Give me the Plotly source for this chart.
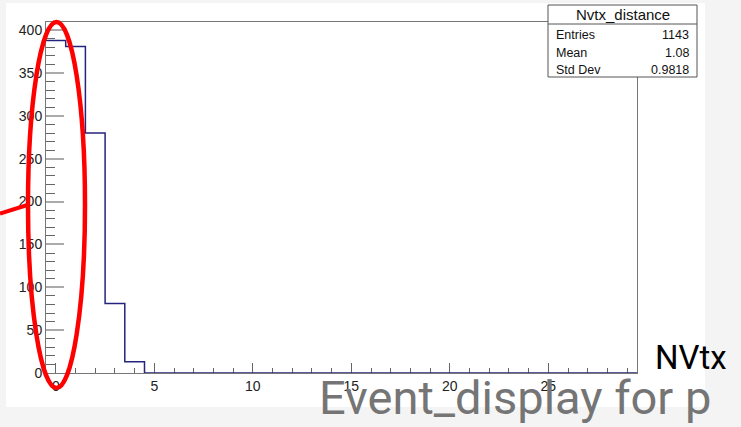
import plotly.graph_objects as go

# Nvtx_distance histogram: 30 unit-width bins centred on 0..29
bin_edges = [i - 0.5 for i in range(31)]
counts = [388, 381, 280, 81, 13] + [0] * 25

stats_title = "Nvtx_distance"
stats_labels = ["Entries", "Mean", "Std Dev"]
stats_values = ["1143", "1.08", "0.9818"]

x_major = [0, 5, 10, 15, 20, 25]
y_major = [0, 50, 100, 150, 200, 250, 300, 350, 400]

W, H = 741, 427


def px(x):
    return x / W


def py(y):
    return 1 - y / H


fig = go.Figure()

fig.add_trace(go.Scatter(
    x=bin_edges,
    y=counts + [counts[-1]],
    mode="lines",
    line=dict(shape="hv", color="#24247e", width=1.5),
    hoverinfo="skip",
    showlegend=False,
))

axis_font = dict(family="Liberation Sans, Arial, sans-serif", size=14, color="#222222")

fig.update_xaxes(
    domain=[px(46), px(637)],
    range=[-0.5, 29.5],
    tickvals=x_major,
    ticks="inside", ticklen=10, tickcolor="#666666", tickwidth=1,
    minor=dict(ticks="inside", ticklen=5, dtick=1, tickcolor="#666666", tickwidth=1),
    showline=True, linecolor="#777777", linewidth=1, mirror=True,
    showgrid=False, zeroline=False,
    tickfont=axis_font,
    layer="below traces",
)
fig.update_yaxes(
    domain=[py(373), py(22)],
    range=[0, 409.5],
    tickvals=y_major,
    ticks="inside", ticklen=18, tickcolor="#aaaaaa", tickwidth=1.5,
    minor=dict(ticks="inside", ticklen=9, dtick=10, tickcolor="#666666", tickwidth=1),
    showline=True, linecolor="#777777", linewidth=1, mirror=True,
    showgrid=False, zeroline=False,
    tickfont=axis_font,
    layer="below traces",
)

shapes = []
# white canvas behind the pad
shapes.append(dict(type="rect", xref="paper", yref="paper",
                   x0=px(6), x1=px(705), y0=py(407), y1=py(3),
                   fillcolor="white", line=dict(width=0), layer="below"))
# statistics box
shapes.append(dict(type="rect", xref="paper", yref="paper",
                   x0=px(548), x1=px(697), y0=py(77), y1=py(5),
                   fillcolor="white", line=dict(color="#555555", width=1), layer="above"))
shapes.append(dict(type="line", xref="paper", yref="paper",
                   x0=px(548), x1=px(697), y0=py(24), y1=py(24),
                   line=dict(color="#555555", width=1), layer="above"))
# red highlight around the first bins
shapes.append(dict(type="circle", xref="paper", yref="paper",
                   x0=px(28), x1=px(85), y0=py(388), y1=py(22),
                   line=dict(color="#ff0000", width=4.5), layer="above"))
shapes.append(dict(type="line", xref="paper", yref="paper",
                   x0=px(0), x1=px(29), y0=py(213.5), y1=py(204.5),
                   line=dict(color="#ff0000", width=4), layer="above"))

annotations = []
stat_font = dict(family="Liberation Sans, Arial, sans-serif", size=12.5, color="#111111")
annotations.append(dict(text=stats_title, xref="paper", yref="paper",
                        x=px(622.5), y=py(14.5), xanchor="center", yanchor="middle",
                        showarrow=False,
                        font=dict(family="Liberation Sans, Arial, sans-serif", size=15, color="#111111")))
for i, (lab, val) in enumerate(zip(stats_labels, stats_values)):
    yc = py(35 + 17.5 * i)
    annotations.append(dict(text=lab, xref="paper", yref="paper", x=px(554), y=yc,
                            xanchor="left", yanchor="middle", showarrow=False, font=stat_font))
    annotations.append(dict(text=val, xref="paper", yref="paper", x=px(691), y=yc,
                            xanchor="right", yanchor="middle", showarrow=False, font=stat_font))

annotations.append(dict(text="NVtx", xref="paper", yref="paper", x=px(653), y=py(357),
                        xanchor="left", yanchor="middle", showarrow=False,
                        font=dict(family="Roboto", size=33, color="#000000")))
annotations.append(dict(text="Event_display for p", xref="paper", yref="paper",
                        x=px(713), y=py(397.5), xanchor="right", yanchor="middle",
                        showarrow=False,
                        font=dict(family="Roboto", size=47, color="#757575")))

fig.update_layout(
    width=W, height=H,
    margin=dict(l=0, r=0, t=0, b=0, autoexpand=False),
    paper_bgcolor="#f4f4f4",
    plot_bgcolor="white",
    shapes=shapes,
    annotations=annotations,
    showlegend=False,
)

fig.write_html("out.html")
